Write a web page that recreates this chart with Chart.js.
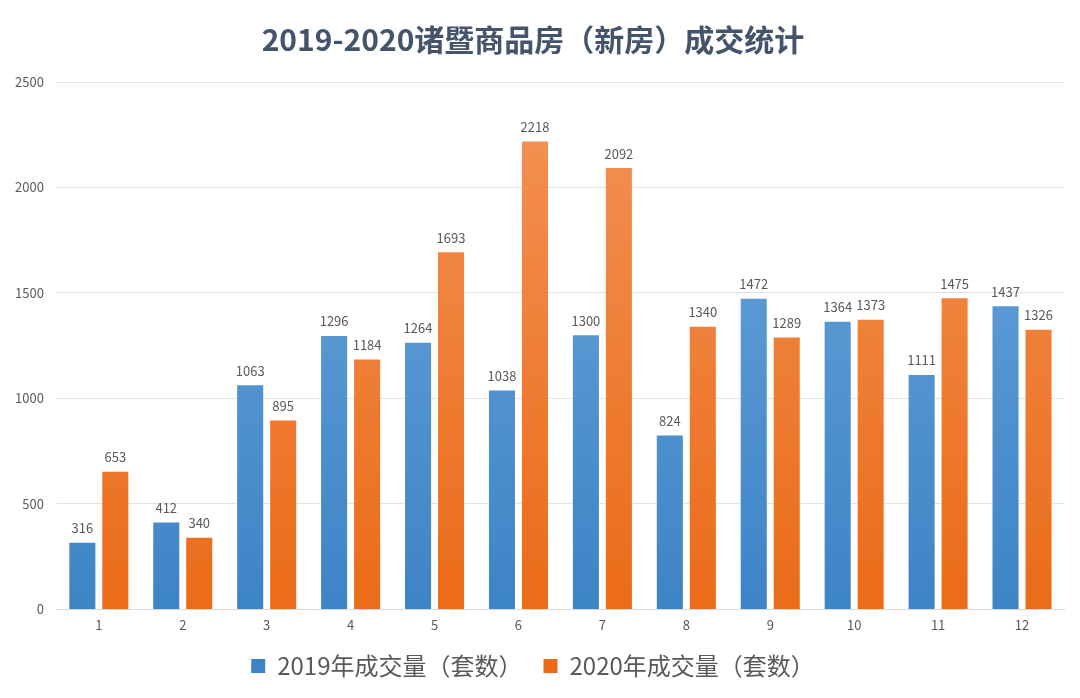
<!DOCTYPE html>
<html>
<head>
<meta charset="utf-8">
<script src="https://cdn.jsdelivr.net/npm/chart.js@4/dist/chart.umd.min.js"></script>
<style>
  html, body { margin: 0; padding: 0; background: #fff; }
  #wrap { width: 1080px; height: 698px; }
</style>
</head>
<body>
<div id="wrap"><canvas id="myChart" width="1080" height="698"></canvas></div>
<script>
(function () {
  'use strict'

// 月份
var months = ['1', '2', '3', '4', '5', '6', '7', '8', '9', '10', '11', '12']
// 2019年成交量（套数）
var vol2019 = [316, 412, 1063, 1296, 1264, 1038, 1300, 824, 1472, 1364, 1111, 1437]
// 2020年成交量（套数）
var vol2020 = [653, 340, 895, 1184, 1693, 2218, 2092, 1340, 1289, 1373, 1475, 1326]
var yTicks = [0, 500, 1000, 1500, 2000, 2500]

var fontCN = '"Noto Sans CJK SC", "Microsoft YaHei", sans-serif'

function grad(top, bottom) {
  return function (c) {
    var area = c.chart.chartArea
    if (!area) return bottom
    var g = c.chart.ctx.createLinearGradient(0, area.top, 0, area.bottom)
    g.addColorStop(0, top)
    g.addColorStop(1, bottom)
    return g
  }
}

// 柱顶数值
var valueLabels = {
  id: 'valueLabels',
  afterDatasetsDraw: function (chart) {
    var ctx = chart.ctx
    ctx.save()
    ctx.font = '13px ' + fontCN
    ctx.fillStyle = '#595959'
    ctx.textAlign = 'center'
    ctx.textBaseline = 'bottom'
    chart.data.datasets.forEach(function (ds, i) {
      chart.getDatasetMeta(i).data.forEach(function (bar, j) {
        ctx.fillText(ds.data[j], bar.x, bar.y - 8)
      })
    })
    ctx.restore()
  }
}

const ctx = document.getElementById('myChart').getContext('2d')

new Chart(ctx, {
  type: 'bar',
  data: {
    labels: months,
    datasets: [
      {
        label: '2019年成交量（套数）',
        data: vol2019,
        backgroundColor: grad('#6ea7dc', '#3d84c6'),
        categoryPercentage: 0.786,
        barPercentage: 0.79
      },
      {
        label: '2020年成交量（套数）',
        data: vol2020,
        backgroundColor: grad('#f39357', '#eb6b18'),
        categoryPercentage: 0.786,
        barPercentage: 0.79
      }
    ]
  },
  plugins: [valueLabels],
  options: {
    responsive: false,
    animation: false,
    layout: { padding: { left: 2, right: 16, top: 14, bottom: 10 } },
    plugins: {
      title: {
        display: true,
        text: '2019-2020诸暨商品房（新房）成交统计',
        color: '#44546a',
        font: { family: fontCN, size: 30, weight: 'bold' },
        padding: { top: 8, bottom: 24 }
      },
      legend: {
        position: 'bottom',
        labels: {
          color: '#595959',
          font: { family: fontCN, size: 24 },
          boxWidth: 14,
          boxHeight: 14,
          padding: 21
        }
      },
      tooltip: { enabled: false }
    },
    scales: {
      x: {
        grid: { display: false },
        border: { color: '#d9d9d9' },
        ticks: { color: '#595959', font: { family: fontCN, size: 13 }, padding: 0 }
      },
      y: {
        min: 0,
        max: 2500,
        afterBuildTicks: function (axis) {
          axis.ticks = yTicks.map(function (v) { return { value: v } })
        },
        grid: { color: '#e3e3e3', drawTicks: false },
        border: { display: false },
        ticks: {
          color: '#595959',
          font: { family: fontCN, size: 13 },
          padding: 13,
          callback: function (v) { return String(v) }
        }
      }
    }
  }
})

})()
</script>
</body>
</html>
